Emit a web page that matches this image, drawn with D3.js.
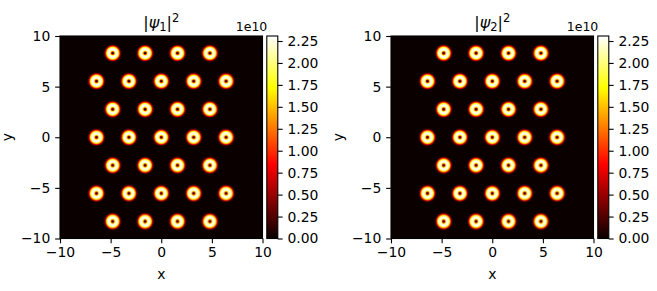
<!DOCTYPE html>
<html>
<meta charset="utf-8">
<title>|psi|^2 vortex lattice</title>
<style>
  body { margin: 0; background: #fff; }
  text { font-family: "DejaVu Sans", sans-serif; }
  .tick line, .domain { stroke: #000; stroke-width: 1.1; }
  .tick text { font-size: 13.9px; fill: #000; }
</style>
<body>
<div id="chart"></div>
<script src="https://cdn.jsdelivr.net/npm/d3@7"></script>
<script>

// vortex lattice (same in both components)
const rowY = [8.31, 5.54, 2.77, 0, -2.77, -5.54, -8.31];
const rowX = [
  [-4.8, -1.6, 1.6, 4.8],
  [-6.4, -3.2, 0, 3.2, 6.4],
  [-4.8, -1.6, 1.6, 4.8],
  [-6.4, -3.2, 0, 3.2, 6.4],
  [-4.8, -1.6, 1.6, 4.8],
  [-6.4, -3.2, 0, 3.2, 6.4],
  [-4.8, -1.6, 1.6, 4.8]
];
const peakDensity = 2.307e10;
const axisTicks = [-10, -5, 0, 5, 10];
const cbarTicks = [0, 0.25, 0.5, 0.75, 1, 1.25, 1.5, 1.75, 2, 2.25];
const panels = [
  {sub: '1', left: 60},
  {sub: '2', left: 391}
];

const W = 657, H = 291;
const plotTop = 36, size = 202.5, grid = 405;
const tickLen = 4.86;

const svg = d3.select('#chart').append('svg')
  .attr('width', W).attr('height', H);

// matplotlib "hot"
function hot(t) {
  t = Math.max(0, Math.min(1, t));
  const r = t < 0.365079 ? 0.0416 + (1 - 0.0416) * t / 0.365079 : 1;
  const g = t < 0.365079 ? 0 : (t < 0.746032 ? (t - 0.365079) / (0.746032 - 0.365079) : 1);
  const b = t < 0.746032 ? 0 : (t - 0.746032) / (1 - 0.746032);
  return [Math.round(r * 255), Math.round(g * 255), Math.round(b * 255)];
}

const vortices = [];
rowY.forEach((y, i) => rowX[i].forEach(x => vortices.push([x, y])));

// bright ring around every vortex core
function ring(r) {
  const core = Math.pow(Math.tanh(r / 0.14), 4);
  return core * Math.exp(-Math.pow(r / 0.7, 6));
}
let ringMax = 0;
for (let r = 0; r < 1; r += 0.001) ringMax = Math.max(ringMax, ring(r));

const color = d3.scaleLinear().domain([0, peakDensity]).range([0, 1]);

// density image
const canvas = document.createElement('canvas');
canvas.width = grid; canvas.height = grid;
const ctx = canvas.getContext('2d');
const img = ctx.createImageData(grid, grid);
for (let j = 0; j < grid; j++) {
  const y = 10 - (j + 0.5) * 20 / grid;
  for (let i = 0; i < grid; i++) {
    const x = -10 + (i + 0.5) * 20 / grid;
    let v = 0;
    vortices.forEach(p => {
      const r = Math.hypot(x - p[0], y - p[1]);
      if (r < 1.5) v += ring(r) / ringMax;
    });
    const c = hot(color(v * peakDensity));
    const k = (j * grid + i) * 4;
    img.data[k] = c[0]; img.data[k + 1] = c[1]; img.data[k + 2] = c[2]; img.data[k + 3] = 255;
  }
}
ctx.putImageData(img, 0, 0);
const dataUrl = canvas.toDataURL();

// colorbar image
const cb = document.createElement('canvas');
cb.width = 1; cb.height = 256;
const cctx = cb.getContext('2d');
const cimg = cctx.createImageData(1, 256);
for (let j = 0; j < 256; j++) {
  const c = hot(1 - j / 255);
  cimg.data[j * 4] = c[0]; cimg.data[j * 4 + 1] = c[1]; cimg.data[j * 4 + 2] = c[2]; cimg.data[j * 4 + 3] = 255;
}
cctx.putImageData(cimg, 0, 0);
const cbUrl = cb.toDataURL();

panels.forEach(p => {
  const x = d3.scaleLinear().domain([-10, 10]).range([p.left, p.left + size]);
  const y = d3.scaleLinear().domain([-10, 10]).range([plotTop + size, plotTop]);
  const g = svg.append('g');

  g.append('image')
    .attr('href', dataUrl)
    .attr('x', x(-10)).attr('y', y(10))
    .attr('width', size).attr('height', size)
    .attr('preserveAspectRatio', 'none');

  g.append('rect')
    .attr('x', x(-10)).attr('y', y(10))
    .attr('width', size).attr('height', size)
    .attr('fill', 'none').attr('stroke', '#000').attr('stroke-width', 1.1);

  g.append('g')
    .attr('transform', `translate(0,${plotTop + size})`)
    .call(d3.axisBottom(x).tickValues(axisTicks).tickSize(tickLen).tickPadding(4.2).tickSizeOuter(0))
    .call(a => a.select('.domain').remove());

  g.append('g')
    .attr('transform', `translate(${p.left},0)`)
    .call(d3.axisLeft(y).tickValues(axisTicks).tickSize(tickLen).tickPadding(4.86).tickSizeOuter(0))
    .call(a => a.select('.domain').remove());

  g.append('text')
    .attr('x', x(0)).attr('y', 279)
    .attr('text-anchor', 'middle').style('font-size', '13.9px')
    .text('x');

  g.append('text')
    .attr('transform', `translate(${p.left - 48},${y(0)}) rotate(-90)`)
    .attr('text-anchor', 'middle').style('font-size', '13.9px')
    .text('y');

  const title = g.append('text')
    .attr('x', x(0)).attr('y', 28)
    .attr('text-anchor', 'middle').style('font-size', '16px');
  title.append('tspan').text('|');
  title.append('tspan').style('font-style', 'italic').text('ψ');
  title.append('tspan').attr('dy', 2.5).style('font-size', '11.5px').text(p.sub);
  title.append('tspan').attr('dy', -2.5).text('|');
  title.append('tspan').attr('dy', -6.5).style('font-size', '11.5px').text('2');

  // colorbar
  const cx = p.left + size + 4.3, cw = 11;
  const cy = d3.scaleLinear().domain([0, peakDensity / 1e10]).range([plotTop + size, plotTop]);
  g.append('image')
    .attr('href', cbUrl)
    .attr('x', cx).attr('y', plotTop)
    .attr('width', cw).attr('height', size)
    .attr('preserveAspectRatio', 'none');
  g.append('rect')
    .attr('x', cx).attr('y', plotTop)
    .attr('width', cw).attr('height', size)
    .attr('fill', 'none').attr('stroke', '#000').attr('stroke-width', 1.1);
  g.append('g')
    .attr('transform', `translate(${cx + cw},0)`)
    .call(d3.axisRight(cy).tickValues(cbarTicks).tickFormat(d3.format('.2f')).tickSize(tickLen).tickPadding(4.86).tickSizeOuter(0))
    .call(a => a.select('.domain').remove());
  g.append('text')
    .attr('x', cx + 0.5).attr('y', 30.7)
    .attr('text-anchor', 'end').style('font-size', '12.5px')
    .text('1e10');
});

</script>
</body>
</html>
